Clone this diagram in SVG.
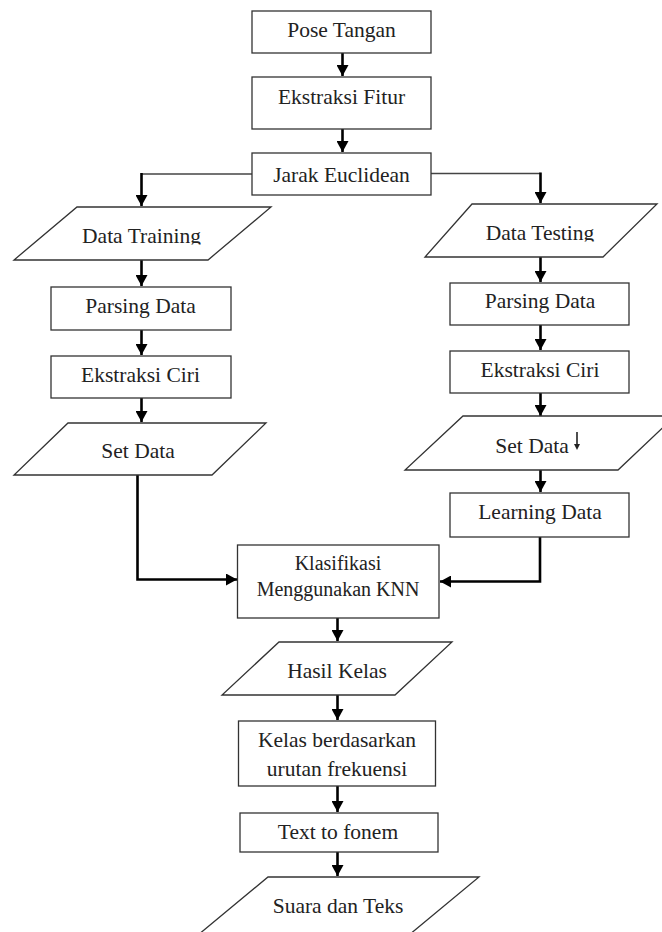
<svg xmlns="http://www.w3.org/2000/svg" width="662" height="932" viewBox="0 0 662 932">
<style>
.box{fill:#fff;stroke:#333;stroke-width:1.3}
.t{font-family:"Liberation Serif","Times New Roman",serif;font-size:21.5px;fill:#222;text-anchor:middle}
.k{font-size:20px}
.c{fill:none;stroke:#000;stroke-width:2.6}
.thin{fill:none;stroke:#444;stroke-width:1.5}
</style>
<defs>
<marker id="ah" markerUnits="userSpaceOnUse" markerWidth="11" markerHeight="12" refX="11" refY="6" orient="auto">
<path d="M0,0 L11,6 L0,12 Z" fill="#000"/>
</marker>
<clipPath id="clipTr"><rect x="0" y="200" width="300" height="44.5"/></clipPath>
<clipPath id="clipTe"><rect x="400" y="200" width="262" height="41.5"/></clipPath>
</defs>
<rect width="662" height="932" fill="#fff"/>

<g id="connectors">
<path class="c" d="M342.5,53 V76" marker-end="url(#ah)"/>
<path class="c" d="M342.5,129 V152" marker-end="url(#ah)"/>
<path class="thin" d="M252,174 H141.5"/>
<path class="c" d="M141.5,173 V206" marker-end="url(#ah)"/>
<path class="thin" d="M431,173.5 H540.5"/>
<path class="c" d="M540.5,172.5 V203" marker-end="url(#ah)"/>
<path class="c" d="M141.5,260 V286" marker-end="url(#ah)"/>
<path class="c" d="M141.5,330 V355" marker-end="url(#ah)"/>
<path class="c" d="M141.5,398 V422" marker-end="url(#ah)"/>
<path class="c" d="M540.5,257 V282" marker-end="url(#ah)"/>
<path class="c" d="M540.5,325 V350" marker-end="url(#ah)"/>
<path class="c" d="M540.5,393 V416" marker-end="url(#ah)"/>
<path class="c" d="M540.5,470 V492" marker-end="url(#ah)"/>
<path class="c" d="M137.5,475 V579.5 H237" marker-end="url(#ah)"/>
<path class="c" d="M540,537 V581.5 H440" marker-end="url(#ah)"/>
<path class="c" d="M337.5,618 V641" marker-end="url(#ah)"/>
<path class="c" d="M337.5,695 V720" marker-end="url(#ah)"/>
<path class="c" d="M337.5,786 V812" marker-end="url(#ah)"/>
<path class="c" d="M337.5,852 V876" marker-end="url(#ah)"/>
</g>

<g id="pose-tangan">
<rect class="box" x="252" y="11" width="179" height="42"/>
<text class="t" x="341.5" y="37">Pose Tangan</text>
</g>
<g id="ekstraksi-fitur">
<rect class="box" x="252" y="77" width="179" height="52"/>
<text class="t" x="341.5" y="104">Ekstraksi Fitur</text>
</g>
<g id="jarak-euclidean">
<rect class="box" x="252" y="153" width="179" height="42"/>
<text class="t" x="341.5" y="182">Jarak Euclidean</text>
</g>

<g id="data-training">
<polygon class="box" points="77,207 271,207 208,260 14,260"/>
<text class="t" x="141.5" y="243" clip-path="url(#clipTr)">Data Training</text>
</g>
<g id="parsing-data-left">
<rect class="box" x="51" y="287" width="180" height="43"/>
<text class="t" x="140.5" y="313">Parsing Data</text>
</g>
<g id="ekstraksi-ciri-left">
<rect class="box" x="51" y="356" width="180" height="42"/>
<text class="t" x="140.5" y="382">Ekstraksi Ciri</text>
</g>
<g id="set-data-left">
<polygon class="box" points="68,423 266,423 212,475 14,475"/>
<text class="t" x="138" y="458">Set Data</text>
</g>

<g id="data-testing">
<polygon class="box" points="472,204 657,204 603,257 425,257"/>
<text class="t" x="540" y="240" clip-path="url(#clipTe)">Data Testing</text>
</g>
<g id="parsing-data-right">
<rect class="box" x="450" y="283" width="179" height="42"/>
<text class="t" x="540" y="308">Parsing Data</text>
</g>
<g id="ekstraksi-ciri-right">
<rect class="box" x="450" y="351" width="179" height="42"/>
<text class="t" x="540" y="377">Ekstraksi Ciri</text>
</g>
<g id="set-data-right">
<polygon class="box" points="463,416 675,416 618,470 405,470"/>
<text class="t" x="532" y="453">Set Data</text>
<path d="M577,432 V445" stroke="#222" stroke-width="1.6" fill="none"/>
<path d="M574,444 L580,444 L577,450 Z" fill="#222"/>
</g>
<g id="learning-data">
<rect class="box" x="450" y="493" width="179" height="44"/>
<text class="t" x="540" y="519">Learning Data</text>
</g>

<g id="klasifikasi-knn">
<rect class="box" x="237.5" y="545" width="201.5" height="73"/>
<text class="t k" x="338" y="570">Klasifikasi</text>
<text class="t k" x="338" y="596">Menggunakan KNN</text>
</g>
<g id="hasil-kelas">
<polygon class="box" points="279,642 452,642 395,695 222,695"/>
<text class="t" x="337" y="678">Hasil Kelas</text>
</g>
<g id="kelas-frekuensi">
<rect class="box" x="238.5" y="721" width="197" height="65"/>
<text class="t" x="337" y="747">Kelas berdasarkan</text>
<text class="t" x="337" y="776">urutan frekuensi</text>
</g>
<g id="text-to-fonem">
<rect class="box" x="240" y="813" width="198" height="39"/>
<text class="t" x="338" y="839">Text to fonem</text>
</g>
<g id="suara-teks">
<polygon class="box" points="268,877 479,877 409,935 198,935"/>
<text class="t" x="338" y="913">Suara dan Teks</text>
</g>
</svg>
